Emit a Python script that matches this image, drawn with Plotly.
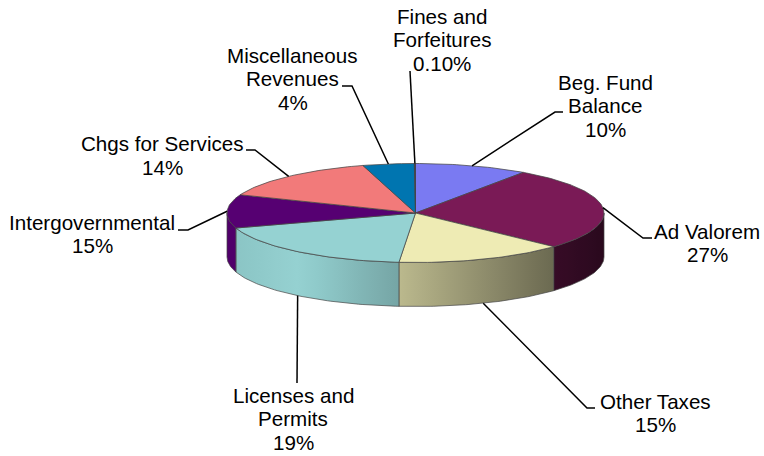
import numpy as np
import plotly.graph_objects as go

categories = [["Beg. Fund", "Balance"], ["Ad Valorem"], ["Other Taxes"], ["Licenses and", "Permits"],
              ["Intergovernmental"], ["Chgs for Services"], ["Miscellaneous", "Revenues"], ["Fines and", "Forfeitures"]]
# slice sizes as drawn in the picture (percent of the circle)
slice_sizes = [9.7, 27.2, 14.5, 18.7, 10.9, 14.5, 4.4, 0.1]
# percentages as printed on the labels
printed_labels = ["10%", "27%", "15%", "19%", "15%", "14%", "4%", "0.10%"]
colors = ["#7A7AF2", "#7A1A56", "#EEEBB4", "#95D2D2", "#560072", "#F27A7A", "#0075B0", "#2A2A55"]

CX, CY, RX, RY, DEPTH = 415.5, 213.0, 188.5, 49.5, 44.0
W, H = 764, 456
LINE_H = 23.8

label_center_x = [605, 707, 655, 293, 92, 162, 292.5, 442]
label_first_y = [82, 231, 401, 395, 222, 143.5, 55, 16]
elbows = [[(555, 112), (563, 112)], [(643, 238), (652, 238)], [(587, 408), (595, 408)], [(297, 383)],
          [(188, 230), (178, 230)], [(255, 150), (246, 150)], [(352, 86), (342, 86)], [(410, 71)]]
leader_on_wall = [False, False, True, True, False, False, False, False]

edges = np.cumsum([0] + slice_sizes) / sum(slice_sizes) * 2 * np.pi


def ex(t):
    return CX + RX * np.sin(t)


def ey(t):
    return CY - RY * np.cos(t)


def shade(hex_color, x):
    f = 1 - (x - 300) * 0.00217 if x >= 300 else 1 - (300 - x) * 0.001
    r, g, b = [int(hex_color[i:i + 2], 16) for i in (1, 3, 5)]
    return f"rgb({r * f:.0f},{g * f:.0f},{b * f:.0f})"


fig = go.Figure()

# side walls, front half only, with a horizontal light-to-dark gradient
for i, c in enumerate(colors):
    a = max(edges[i], np.pi / 2)
    b = min(edges[i + 1], 3 * np.pi / 2)
    if b <= a:
        continue
    tt = np.linspace(a, b, 60)
    xs = list(ex(tt)) + list(ex(tt[::-1]))
    ys = list(ey(tt)) + list(ey(tt[::-1]) + DEPTH)
    xl, xr = min(xs), max(xs)
    stops = np.linspace(0, 1, 9)
    fig.add_trace(go.Scatter(
        x=xs + [xs[0]], y=ys + [ys[0]], mode="lines", fill="toself",
        fillgradient=dict(type="horizontal", start=xl, stop=xr,
                          colorscale=[[float(s), shade(c, xl + s * (xr - xl))] for s in stops]),
        line=dict(color="rgba(70,70,70,0.7)", width=1), hoverinfo="skip", showlegend=False))

# top faces
for i, c in enumerate(colors):
    tt = np.linspace(edges[i], edges[i + 1], max(3, int(slice_sizes[i] * 3)))
    fig.add_trace(go.Scatter(x=[CX] + list(ex(tt)) + [CX], y=[CY] + list(ey(tt)) + [CY], mode="lines",
                             fill="toself", fillcolor=c, line=dict(color="rgba(70,70,70,0.75)", width=1),
                             hoverinfo="skip", showlegend=False))

# leader lines
for i, pts in enumerate(elbows):
    mid = 0.5 * (edges[i] + edges[i + 1])
    x0, y0 = ex(mid), ey(mid) + (DEPTH if leader_on_wall[i] else 0)
    fig.add_trace(go.Scatter(x=[x0] + [p[0] for p in pts], y=[y0] + [p[1] for p in pts], mode="lines",
                             line=dict(color="#000000", width=1.5), hoverinfo="skip", showlegend=False))

# labels, one annotation per text line
for name, pct, lx, ly in zip(categories, printed_labels, label_center_x, label_first_y):
    for k, line in enumerate(name + [pct]):
        fig.add_annotation(x=lx, y=ly + k * LINE_H, text=line, showarrow=False, align="center",
                           xanchor="center", yanchor="middle",
                           font=dict(family="Liberation Sans, Arial, sans-serif", size=20.6, color="#000000"))

fig.update_xaxes(range=[0, W], visible=False, fixedrange=True)
fig.update_yaxes(range=[H, 0], visible=False, fixedrange=True)
fig.update_layout(width=W, height=H, margin=dict(l=0, r=0, t=0, b=0), autosize=False,
                  paper_bgcolor="#FFFFFF", plot_bgcolor="#FFFFFF", showlegend=False)
fig.write_html("out.html", config=dict(displayModeBar=False),
               post_script="document.body.style.margin='0';document.documentElement.style.overflow='hidden';")
